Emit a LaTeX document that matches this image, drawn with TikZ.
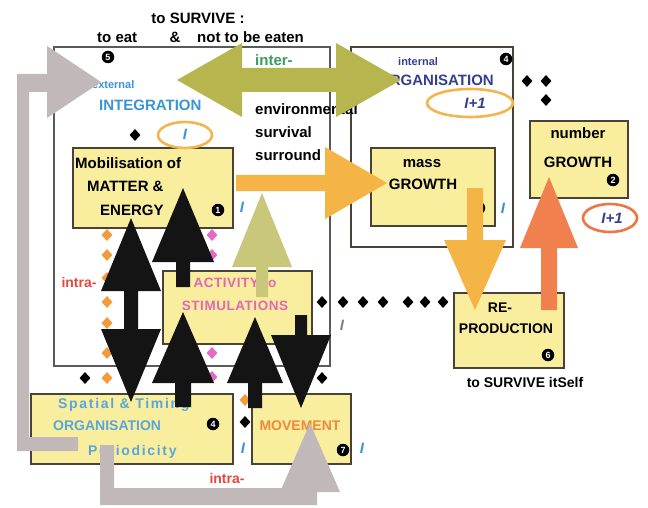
\documentclass[tikz,border=0pt]{standalone}
\usepackage{fontspec}
\setmainfont{Liberation Sans}
\usetikzlibrary{calc,shapes.geometric}
\definecolor{boxyellow}{HTML}{F8EE9E}
\definecolor{boxline}{HTML}{4A4236}
\definecolor{framegray}{HTML}{5A5A5A}
\definecolor{olivearrow}{HTML}{B7B54E}
\definecolor{olivelight}{HTML}{C9C77A}
\definecolor{orangearrow}{HTML}{F4B546}
\definecolor{redarrow}{HTML}{F0804E}
\definecolor{grayarrow}{HTML}{C1B9B9}
\definecolor{intblue}{HTML}{3A94D6}
\definecolor{spblue}{HTML}{5AA6DC}
\definecolor{darkblue}{HTML}{34408E}
\definecolor{intergreen}{HTML}{3E9A60}
\definecolor{intrared}{HTML}{E4483A}
\definecolor{movorange}{HTML}{F2883A}
\definecolor{actpink}{HTML}{E466B4}
\definecolor{dotorange}{HTML}{F39A3A}
\definecolor{dotpink}{HTML}{E36CC0}
\definecolor{ringorange}{HTML}{F2B550}
\definecolor{ringred}{HTML}{EE7544}
\definecolor{blackarrow}{HTML}{141414}
% block arrow: style, start, tip, shaft half width, head half width, head length
\newcommand\blockarrow[6]{%
  \coordinate (ba-b) at ($(#3)!#6!(#2)$);
  \fill[#1] ($(#2)!#4!90:(#3)$) -- ($(ba-b)!#4!90:(#3)$) -- ($(ba-b)!#5!90:(#3)$) -- (#3)
    -- ($(ba-b)!#5!-90:(#3)$) -- ($(ba-b)!#4!-90:(#3)$) -- ($(#2)!#4!-90:(#3)$) -- cycle;}
% double block arrow: style, tip1, tip2, shaft half width, head half width, head length
\newcommand\dblarrow[6]{%
  \coordinate (da-a) at ($(#2)!#6!(#3)$);
  \coordinate (da-b) at ($(#3)!#6!(#2)$);
  \fill[#1] (#2) -- ($(da-a)!#5!90:(#3)$) -- ($(da-a)!#4!90:(#3)$) -- ($(da-b)!#4!-90:(#2)$)
    -- ($(da-b)!#5!-90:(#2)$) -- (#3) -- ($(da-b)!#5!90:(#2)$) -- ($(da-b)!#4!90:(#2)$)
    -- ($(da-a)!#4!-90:(#3)$) -- ($(da-a)!#5!-90:(#3)$) -- cycle;}
\newcommand\ybox[5]{\node[ybox, anchor=north west, minimum width={#4-#2}, minimum height={#5-#3}] (#1) at (#2,#3) {};}
\tikzset{
  ybox/.style={draw=boxline, line width=1.8pt, fill=boxyellow, inner sep=0pt, rectangle},
  frame/.style={draw=framegray, line width=1.3pt},
  lbl/.style={font=\fontsize{15}{17}\selectfont\bfseries, inner sep=0pt, text height=11pt, text depth=0pt},
  mid/.style={font=\fontsize{14}{16}\selectfont\bfseries, inner sep=0pt, text height=10pt, text depth=0pt},
  small/.style={font=\fontsize{11}{13}\selectfont\bfseries, inner sep=0pt, text height=8pt, text depth=0pt},
  wide/.style={font=\fontsize{14}{16}\selectfont\bfseries\addfontfeature{LetterSpace=12}},
  badge/.style={circle, fill=black, text=white, inner sep=0pt, minimum size=12.5pt, font=\fontsize{9}{9}\selectfont\bfseries},
  dia/.style={diamond, fill=black, inner sep=0pt, minimum width=11pt, minimum height=12pt},
  odia/.style={dia, fill=dotorange},
  pdia/.style={dia, fill=dotpink},
  imark/.style={font=\fontsize{15}{15}\selectfont\bfseries\itshape, text=intblue, inner sep=0pt},
  ring/.style={ellipse, line width=2.6pt, inner sep=0pt},
  iplus/.style={font=\fontsize{15}{15}\selectfont\bfseries\itshape, text=darkblue, inner sep=0pt},
}
\begin{document}
\begin{tikzpicture}[x=1pt, y=-1pt]
\fill[white] (0,0) rectangle (648,508);
\useasboundingbox (0,0) rectangle (648,508);
% frames
\draw[frame] (54,47) rectangle (330,366);
\draw[frame, draw=boxline, line width=1.6pt] (351,47) rectangle (513,247);
% dotted columns
\foreach \y [count=\i] in {235,255,278,302,323,353,378} \node[odia] (od\i) at (107,\y) {};
\foreach \y [count=\i] in {235,255,353,377} \node[pdia] (pd\i) at (212,\y) {};
\node[dia] (bd1) at (85,378) {};
\node[dia] (bd2) at (322,378) {};
\node[dia] (bd3) at (135,135) {};
\node[dia] (bd4) at (527,81) {};
\node[dia] (bd5) at (546,81) {};
\node[dia] (bd6) at (546,100) {};
\foreach \x [count=\i] in {322,343,363,383,408,425,443} \node[dia] (rd\i) at (\x,302) {};
\node[odia] (od8) at (245,400) {};
\node[dia] (bd7) at (245,422) {};
% yellow boxes
\ybox{mob}{72}{147}{232}{227}
\ybox{act}{162}{270}{311}{343}
\ybox{sp}{30}{393}{232}{463}
\ybox{mov}{251}{393}{350}{463}
\ybox{mass}{370}{147}{494}{225}
\ybox{num}{529}{120}{627}{197}
\ybox{rep}{453}{292}{563}{367}
% top texts
\node[lbl] (t1) at (198,18) {to SURVIVE :};
\node[lbl, anchor=west] (t2) at (97,37) {to eat};
\node[lbl] (t3) at (175,37) {\&};
\node[lbl, anchor=west] (t4) at (197,37) {not to be eaten};
% integration
\node[badge] (b5) at (108,57) {5};
\node[small, anchor=west, text=intblue] (ext) at (92,85) {external};
\node[lbl, anchor=west, text=intblue] (integ) at (99,105) {INTEGRATION};
\node[ring, draw=ringorange, minimum width=54pt, minimum height=26pt] (r1) at (185,135) {};
\node[imark] (i1) at (185,134) {I};
% environment
\node[lbl, anchor=west, text=intergreen] (inter) at (255,60) {inter-};
\node[lbl, anchor=west] (env) at (255,109) {environmental};
\node[lbl, anchor=west] (surv) at (255,132) {survival};
\node[lbl, anchor=west] (surr) at (255,155) {surround};
% mobilisation
\node[lbl, anchor=west] (m1) at (75,163) {Mobilisation of};
\node[lbl, anchor=west] (m2) at (87,186) {MATTER \&};
\node[lbl, anchor=west] (m3) at (100,210) {ENERGY};
\node[badge] (b1) at (218,210) {1};
\node[imark] (i2) at (242,207) {I};
% organisation
\node[badge] (b4a) at (506,59) {4};
\node[small, anchor=west, text=darkblue] (intl) at (398,62) {internal};
\node[lbl, anchor=west, text=darkblue] (org) at (378,80) {ORGANISATION};
\node[ring, draw=ringorange, minimum width=86pt, minimum height=28pt] (r2) at (470,103) {};
\node[iplus] (ip1) at (475,103) {I+1};
% mass growth
\node[lbl] (ma1) at (422,162) {mass};
\node[lbl] (ma2) at (423,184) {GROWTH};
\node[badge] (b3) at (479,208) {3};
\node[imark] (i3) at (503,208) {I};
% number growth
\node[lbl] (n1) at (578,133) {number};
\node[lbl] (n2) at (578,162) {GROWTH};
\node[badge] (b2) at (613,180) {2};
\node[ring, draw=ringred, minimum width=54pt, minimum height=28pt] (r3) at (610,218) {};
\node[iplus] (ip2) at (612,218) {I+1};
% reproduction
\node[mid] (re1) at (500,307) {RE-};
\node[mid] (re2) at (506,328) {PRODUCTION};
\node[badge] (b6) at (548,355) {6};
\node[mid] (re3) at (525,382) {to SURVIVE itSelf};
\node[imark, text=gray] (i4) at (342,325) {I};
% activity
\node[mid, text=actpink, font=\fontsize{13.5}{15}\selectfont\bfseries\addfontfeature{LetterSpace=4}] (a1) at (235,282) {ACTIVITY to};
\node[mid, text=actpink, font=\fontsize{13.5}{15}\selectfont\bfseries\addfontfeature{LetterSpace=4}] (a2) at (235,305) {STIMULATIONS};
\node[mid, text=intrared] (intra1) at (79,282) {intra-};
% spatial
\node[mid, wide, anchor=west, text=spblue] (s1) at (58,403) {Spatial \& Timing};
\node[mid, anchor=west, text=spblue] (s2) at (53,425) {ORGANISATION};
\node[mid, wide, anchor=west, text=spblue] (s3) at (88,450) {Periodicity};
\node[badge] (b4b) at (213,424) {4};
\node[imark] (i5) at (243,448) {I};
% movement
\node[mid, text=movorange] (mv) at (300,425) {MOVEMENT};
\node[badge] (b7) at (343,450) {7};
\node[imark] (i6) at (362,448) {I};
\node[mid, text=intrared] (intra2) at (227,478) {intra-};
% arrows: coordinates
\coordinate (olA) at (177,80);  \coordinate (olB) at (401,80);
\coordinate (orS) at (236,183); \coordinate (orT) at (387,183);
\coordinate (odS) at (475,188); \coordinate (odT) at (475,310);
\coordinate (rdS) at (549,310); \coordinate (rdT) at (549,177);
\coordinate (luS) at (262,297); \coordinate (luT) at (262,193);
\coordinate (kaS) at (183,287); \coordinate (kaT) at (183,188);
\coordinate (kbA) at (131,218); \coordinate (kbB) at (131,402);
\coordinate (kcS) at (183,407); \coordinate (kcT) at (183,312);
\coordinate (kdS) at (255,408); \coordinate (kdT) at (255,317);
\coordinate (keS) at (301,315); \coordinate (keT) at (301,408);
\dblarrow{olivearrow}{olA}{olB}{12pt}{37pt}{65pt}
\blockarrow{orangearrow}{orS}{orT}{8pt}{36pt}{62pt}
\blockarrow{orangearrow}{odS}{odT}{8pt}{31pt}{70pt}
\blockarrow{redarrow}{rdS}{rdT}{8pt}{29pt}{71pt}
\blockarrow{olivelight}{luS}{luT}{6pt}{30pt}{74pt}
\blockarrow{blackarrow}{kaS}{kaT}{7pt}{31pt}{74pt}
\dblarrow{blackarrow}{kbA}{kbB}{7pt}{30pt}{73pt}
\blockarrow{blackarrow}{kcS}{kcT}{8pt}{31pt}{71pt}
\blockarrow{blackarrow}{kdS}{kdT}{7pt}{28pt}{66pt}
\blockarrow{blackarrow}{keS}{keT}{6pt}{30pt}{73pt}
% gray bent arrows
\fill[grayarrow] (78,437) -- (29,437) -- (29,92) -- (47,92) -- (47,118) -- (101,82) -- (47,46)
  -- (47,74) -- (17,74) -- (17,451) -- (78,451) -- cycle;
\fill[grayarrow] (100,445) -- (114,445) -- (114,488) -- (303,488) -- (303,492) -- (280,492)
  -- (310,423) -- (340,492) -- (317,492) -- (317,505) -- (100,505) -- cycle;
\end{tikzpicture}
\end{document}
